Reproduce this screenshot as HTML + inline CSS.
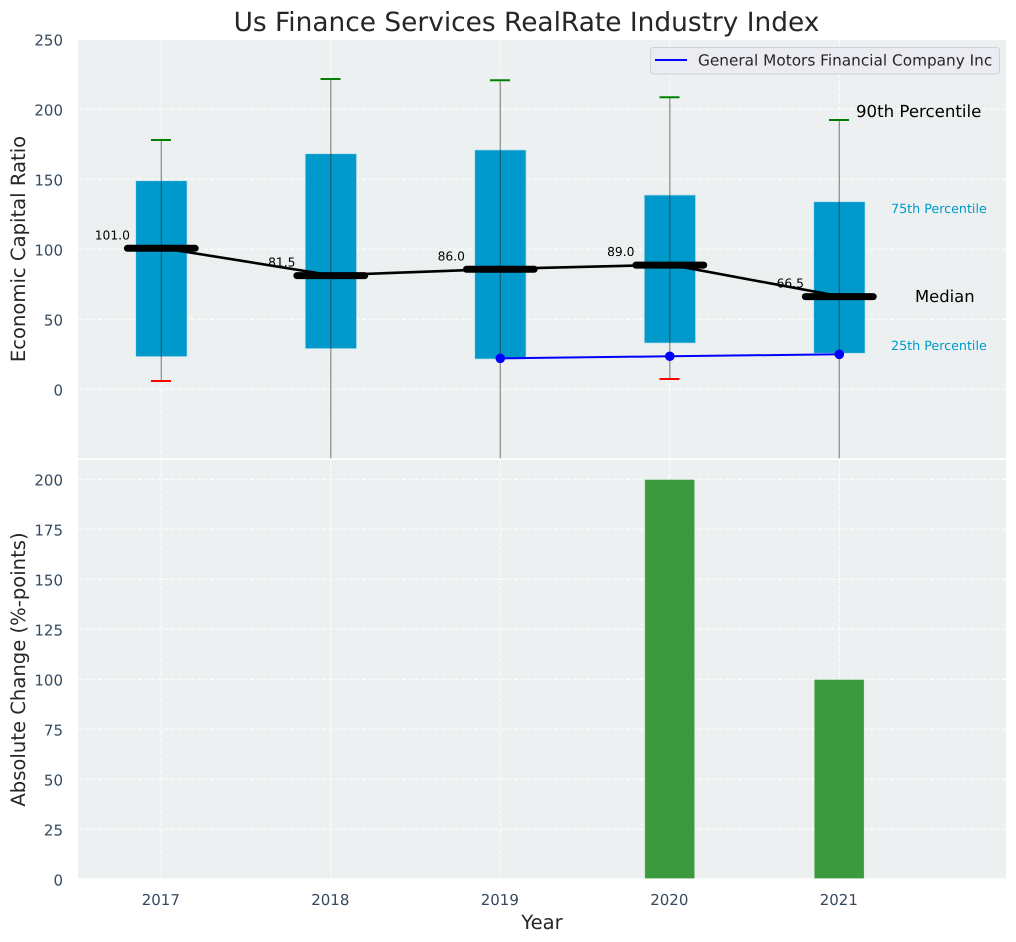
<!DOCTYPE html>
<html lang="en">
<head>
<meta charset="utf-8">
<title>Us Finance Services RealRate Industry Index</title>
<style>
html,body{margin:0;padding:0;background:#fff;width:1016px;height:942px;overflow:hidden}
svg{display:block;font-family:"DejaVu Sans","Liberation Sans",sans-serif;text-rendering:geometricPrecision}
</style>
</head>
<body>
<svg id="chart" width="1016" height="942" viewBox="0 0 1016 942" xmlns="http://www.w3.org/2000/svg">
  <defs>
    <clipPath id="clip-top"><rect x="78" y="40" width="928" height="418.3"/></clipPath>
    <clipPath id="clip-bottom"><rect x="78" y="460" width="928" height="418.4"/></clipPath>
  </defs>
  <rect x="78" y="40" width="928" height="418.3" fill="#ecf0f1"/>
  <rect x="78" y="460" width="928" height="418.4" fill="#ecf0f1"/>
  <g id="top-grid" clip-path="url(#clip-top)"></g>
  <g id="bottom-grid" clip-path="url(#clip-bottom)"></g>
  <g id="top-marks" clip-path="url(#clip-top)"></g>
  <g id="bottom-marks" clip-path="url(#clip-bottom)"></g>
  <g id="labels"></g>

  <text x="526.5" y="31" font-size="26.4" fill="#262626" text-anchor="middle">Us Finance Services RealRate Industry Index</text>
  <text transform="translate(25,249) rotate(-90)" font-size="19.6" fill="#262626" text-anchor="middle">Economic Capital Ratio</text>
  <text transform="translate(25,669.5) rotate(-90)" font-size="19.6" fill="#262626" text-anchor="middle">Absolute Change (%-points)</text>
  <text x="542" y="929" font-size="19.6" fill="#262626" text-anchor="middle">Year</text>

  <g>
    <rect x="650.5" y="47.5" width="349" height="26.5" rx="3" fill="#eaecf1" stroke="#d0d2d6" stroke-width="1"/>
    <line x1="655" y1="60" x2="687" y2="60" stroke="#0000ff" stroke-width="2"/>
    <text x="698" y="65.5" font-size="15.3" fill="#262626">General Motors Financial Company Inc</text>
  </g>

  <text x="856" y="117" font-size="16.6" fill="#000">90th Percentile</text>
  <text x="891" y="213" font-size="12.7" fill="#0099cc">75th Percentile</text>
  <text x="915" y="302" font-size="16.4" fill="#000">Median</text>
  <text x="891" y="350" font-size="12.7" fill="#0099cc">25th Percentile</text>
</svg>

<script>
const years = [2017, 2018, 2019, 2020, 2021];
const p25 = [23.3, 29, 21.6, 33, 25.7];
const p75 = [149, 168.3, 171, 138.8, 134];
const p90 = [178.3, 221.9, 221, 208.8, 192.6];
const p10 = [6.1, -60, -60, 7.6, -60];
const medians = [101.0, 81.5, 86.0, 89.0, 66.5];
const companyYears = [2019, 2020, 2021];
const companyValues = [22.1, 23.6, 25];
const changeYears = [2020, 2021];
const changeValues = [199.7, 99.7];
const topTicks = [0, 50, 100, 150, 200, 250];
const bottomTicks = [0, 25, 50, 75, 100, 125, 150, 175, 200];

const SVGNS = 'http://www.w3.org/2000/svg';
const xScale = v => 161.3 + (v - 2017) * 169.5;
const yTop = v => 389.3 - v * 1.4;
const yBottom = v => 879.3 - v * 2;

function mk(parent, tag, attrs) {
  const el = document.createElementNS(SVGNS, tag);
  for (const k in attrs) el.setAttribute(k, attrs[k]);
  parent.appendChild(el);
  return el;
}

const topGrid = document.getElementById('top-grid');
const bottomGrid = document.getElementById('bottom-grid');
const topMarks = document.getElementById('top-marks');
const bottomMarks = document.getElementById('bottom-marks');
const labels = document.getElementById('labels');
const gridStyle = { stroke: '#ffffff', 'stroke-width': 1, 'stroke-dasharray': '4.6 2', 'stroke-opacity': 0.95 };

topTicks.forEach(t => {
  const g = mk(topGrid, 'line', Object.assign({ x1: 78, x2: 1006, y1: yTop(t), y2: yTop(t) }, gridStyle));
  
  
  const l = mk(labels, 'text', { x: 63, y: yTop(t) + 6.2, 'text-anchor': 'end', 'font-size': 15, fill: '#34495e' });
  l.textContent = t;
  
  
});

bottomTicks.forEach(t => {
  const g = mk(bottomGrid, 'line', Object.assign({ x1: 78, x2: 1006, y1: yBottom(t), y2: yBottom(t) }, gridStyle));
  
  
  const l = mk(labels, 'text', { x: 63, y: yBottom(t) + 6, 'text-anchor': 'end', 'font-size': 15, fill: '#34495e' });
  l.textContent = t;
  
  
});

years.forEach(y => {
  const a = mk(topGrid, 'line', Object.assign({ x1: xScale(y), x2: xScale(y), y1: 40, y2: 458.3 }, gridStyle));
  
  
  const b = mk(bottomGrid, 'line', Object.assign({ x1: xScale(y), x2: xScale(y), y1: 460, y2: 878.4 }, gridStyle));
  
  
  const l = mk(labels, 'text', { x: xScale(y) - 0.5, y: 905, 'text-anchor': 'middle', 'font-size': 15, fill: '#34495e' });
  l.textContent = y;
  
  
});

years.forEach((y, i) => {
  const cx = xScale(y);
  const bar = mk(topMarks, 'rect', {
    x: cx - 25.6, y: yTop(p75[i]), width: 51.4, height: yTop(p25[i]) - yTop(p75[i]),
    fill: '#0099cc', stroke: '#bfe3ee', 'stroke-width': 0.8
  });
  
  

  const whisker = mk(topMarks, 'line', {
    x1: cx, x2: cx, y1: yTop(p90[i]), y2: yTop(p10[i]),
    stroke: '#2b2b2b', 'stroke-opacity': 0.5, 'stroke-width': 1.3
  });
  
  

  const capHi = mk(topMarks, 'line', {
    x1: cx - 10.3, x2: cx + 9.7, y1: yTop(p90[i]) + 0.3, y2: yTop(p90[i]) + 0.3, stroke: '#008000', 'stroke-width': 2
  });
  
  

  const capLo = mk(topMarks, 'line', {
    x1: cx - 10.3, x2: cx + 9.7, y1: yTop(p10[i]) + 0.3, y2: yTop(p10[i]) + 0.3, stroke: '#ff0000', 'stroke-width': 2
  });
  
  
});

const medianLine = mk(topMarks, 'polyline', {
  points: years.map((y, i) => xScale(y) + ',' + yTop(medians[i])).join(' '),
  fill: 'none', stroke: '#000', 'stroke-width': 2.6
});



years.forEach((y, i) => {
  const m = mk(topMarks, 'line', {
    x1: xScale(y) - 33.9, x2: xScale(y) + 33.9, y1: yTop(medians[i]) + 0.4, y2: yTop(medians[i]) + 0.4,
    stroke: '#000', 'stroke-width': 7, 'stroke-linecap': 'round'
  });
  
  
  const t = mk(topMarks, 'text', {
    x: xScale(y) - 49, y: yTop(medians[i]) - 8.5, 'text-anchor': 'middle', 'font-size': 12.3, fill: '#000'
  });
  t.textContent = medians[i].toFixed(1);
  
  
});

const companyLine = mk(topMarks, 'polyline', {
  points: companyYears.map((y, i) => xScale(y) + ',' + yTop(companyValues[i])).join(' '),
  fill: 'none', stroke: '#0000ff', 'stroke-width': 2
});



companyYears.forEach((y, i) => {
  const c = mk(topMarks, 'circle', { cx: xScale(y), cy: yTop(companyValues[i]), r: 4.8, fill: '#0000ff' });
  
  
});

changeYears.forEach((y, i) => {
  const b = mk(bottomMarks, 'rect', {
    x: xScale(y) - 24.7, y: yBottom(changeValues[i]), width: 49.2, height: yBottom(0) - yBottom(changeValues[i]),
    fill: '#3b9a3d', stroke: '#4fae50', 'stroke-width': 0.5
  });
  
  
});
</script>
</body>
</html>
